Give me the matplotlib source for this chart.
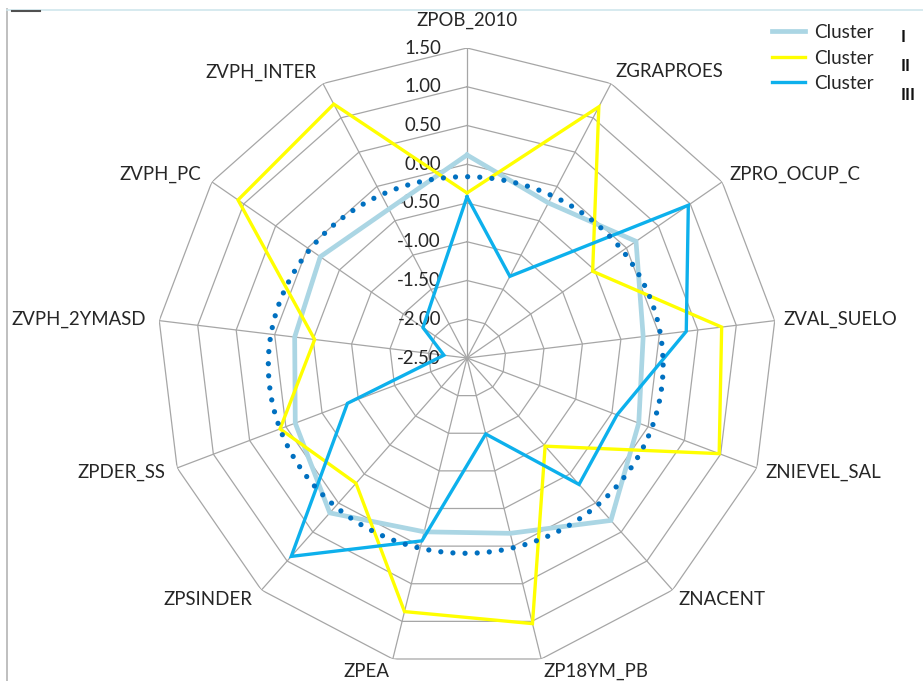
import numpy as np
import matplotlib
matplotlib.use("Agg")
import matplotlib.pyplot as plt

plt.rcParams['font.family'] = ['Lato', 'DejaVu Sans']

# Variables (axes of the radar, clockwise from the top)
variables = ["ZPOB_2010", "ZGRAPROES", "ZPRO_OCUP_C", "ZVAL_SUELO", "ZNIEVEL_SAL",
             "ZNACENT", "ZP18YM_PB", "ZPEA", "ZPSINDER", "ZPDER_SS",
             "ZVPH_2YMASD", "ZVPH_PC", "ZVPH_INTER"]

# Standardised means per cluster
cluster_1 = [0.12, -0.24, 0.15, -0.21, -0.13, 0.30, -0.17, -0.19, 0.17, -0.13, -0.26, -0.20, -0.33]
cluster_2 = [-0.37, 1.16, -0.53, 0.81, 0.98, -0.98, 1.03, 0.87, -0.34, 0.08, -0.52, 1.09, 1.20]
cluster_3 = [-0.42, -1.31, 0.97, 0.35, -0.43, -0.32, -1.49, -0.07, 0.92, -0.85, -2.20, -1.81, -1.58]

series_labels = ["Cluster", "Cluster", "Cluster"]
roman_labels = ["I", "II", "III"]

r_min, r_max = -2.5, 1.5
ring_levels = np.arange(-2.5, 1.51, 0.5)

W, H = 923, 681
fig = plt.figure(figsize=(W / 100, H / 100), dpi=100)

cx, cy, R = 467, 358, 310
ax = fig.add_axes([(cx - R) / W, (H - cy - R) / H, 2 * R / W, 2 * R / H], projection='polar')
ax.set_theta_zero_location('N')
ax.set_theta_direction(-1)
ax.set_ylim(r_min, r_max)
ax.grid(False)
ax.set_xticks([])
ax.set_yticks([])
ax.spines['polar'].set_visible(False)
ax.patch.set_alpha(0)

n = len(variables)
theta = np.arange(n) * 2 * np.pi / n
theta_closed = np.append(theta, theta[0])

grid_col = '#A6A6A6'
# polygonal rings
for lv in ring_levels[1:]:
    ax.plot(theta_closed, [lv] * (n + 1), color=grid_col, lw=0.9, zorder=1)
# spokes
for t in theta:
    ax.plot([t, t], [r_min, r_max], color=grid_col, lw=0.9, zorder=1)

text_col = '#262626'
fs = 13.4
# value labels along the top spoke
for lv in ring_levels:
    ax.annotate(f"{lv:.2f}", xy=(0, lv), xytext=(-26, 0), textcoords='offset pixels',
                ha='right', va='center', fontsize=fs, color=text_col, zorder=2)

# category labels
for t, name in zip(theta, variables):
    s, c = np.sin(t), np.cos(t)
    if abs(s) < 0.05:
        ha = 'center'
        off = (0, 28 if c > 0 else -14)
    else:
        ha = 'left' if s > 0 else 'right'
        k = 9 if s > 0 else 13
        off = (k * s, 13 * c)
    ax.annotate(name, xy=(t, r_max), xytext=off, textcoords='offset pixels',
                ha=ha, va='center', fontsize=fs, color=text_col)

def closed(v):
    return list(v) + [v[0]]

l1, = ax.plot(theta_closed, closed(cluster_1), color='#ABD6E4', lw=3.4, zorder=3,
              solid_joinstyle='miter')
l2, = ax.plot(theta_closed, closed(cluster_2), color='#FFFF00', lw=2.4, zorder=4,
              solid_joinstyle='miter')
l3, = ax.plot(theta_closed, closed(cluster_3), color='#0DB0EC', lw=2.4, zorder=5,
              solid_joinstyle='miter')

# overlay in pixel coordinates for the dotted reference ellipse and frame
ov = fig.add_axes([0, 0, 1, 1])
ov.set_xlim(0, W)
ov.set_ylim(H, 0)
ov.axis('off')
ov.patch.set_alpha(0)

t_e = np.linspace(0, 2 * np.pi, 721)
ov.plot(465.7 + 197.4 * np.cos(t_e), 365 + 188.3 * np.sin(t_e), color='#0070C0',
        lw=3.8, ls=(0, (0.001, 2.3)), dash_capstyle='round', zorder=6)

# chart frame edges
ov.plot([7, 7], [9, H], color='#B4B4B4', lw=1.2)
ov.plot([7, W], [9.5, 9.5], color='#CFE6EC', lw=1.2)
ov.plot([12, 40], [11, 11], color='#505050', lw=1.5)

leg = fig.legend([l1, l2, l3], series_labels, loc='upper left',
                 bbox_to_anchor=(755 / W, 1 - 7 / H), frameon=False,
                 fontsize=13.6, handlelength=1.75, handletextpad=0.5,
                 labelspacing=0.45, labelcolor=text_col)

for i, rl in enumerate(roman_labels):
    ov.text(901, 37 + i * 29, rl, ha='left', va='center', fontsize=12,
            fontweight='bold', color='#111111')

fig.savefig('out.png', dpi=100)
